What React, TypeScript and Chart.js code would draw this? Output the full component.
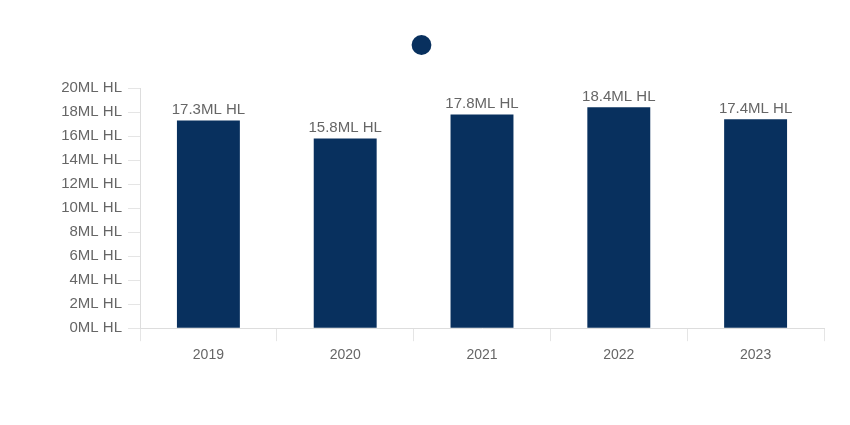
import React, { useEffect, useRef } from "react";
import { Chart, registerables } from "chart.js";

Chart.register(...registerables);

const categories = ["2019", "2020", "2021", "2022", "2023"];
const volumes = [17.3, 15.8, 17.8, 18.4, 17.4];
const unit = "ML HL";
const yMax = 20;
const yStep = 2;
const barColor = "#08305e";
const textColor = "#666666";
const fontFamily = "'Helvetica Neue', Helvetica, Arial, 'Liberation Sans', sans-serif";

const legendSpacing = {
  id: "legendSpacing",
  beforeInit(chart: any) {
    const legend = chart.legend;
    if (!legend) return;
    const fit = legend.fit;
    legend.fit = function () {
      fit.call(legend);
      legend.height += 26;
    };
  },
};

const valueLabels = {
  id: "valueLabels",
  afterDatasetsDraw(chart: any) {
    const ctx = chart.ctx;
    const meta = chart.getDatasetMeta(0);
    const data = chart.data.datasets[0].data as number[];
    ctx.save();
    ctx.font = `15px ${fontFamily}`;
    ctx.fillStyle = textColor;
    ctx.textAlign = "center";
    ctx.textBaseline = "alphabetic";
    meta.data.forEach((bar: any, i: number) => {
      ctx.fillText(`${data[i].toFixed(1)}${unit}`, bar.x, bar.y - 6);
    });
    ctx.restore();
  },
};

export default function App() {
  const canvasRef = useRef<HTMLCanvasElement | null>(null);

  useEffect(() => {
    if (!canvasRef.current) return;
    const chart = new Chart(canvasRef.current, {
      type: "bar",
      data: {
        labels: categories,
        datasets: [
          {
            label: "",
            data: volumes,
            backgroundColor: barColor,
            borderColor: barColor,
            barPercentage: 0.46,
            categoryPercentage: 1,
          },
        ],
      },
      options: {
        animation: false,
        responsive: false,
        maintainAspectRatio: false,
        layout: { padding: { top: 28, left: 26, right: 26, bottom: 55 } },
        font: { family: fontFamily, size: 14 },
        color: textColor,
        plugins: {
          legend: {
            display: true,
            position: "top",
            labels: {
              usePointStyle: true,
              pointStyle: "circle",
              boxHeight: 14,
              boxWidth: 14,
              color: textColor,
              font: { family: fontFamily, size: 14 },
            },
          },
          tooltip: { enabled: false },
        },
        scales: {
          x: {
            grid: {
              drawOnChartArea: false,
              drawTicks: true,
              tickLength: 13,
              offset: true,
            },
            border: { display: true, color: "#dddddd" },
            ticks: {
              color: textColor,
              font: { family: fontFamily, size: 14 },
              padding: 6,
            },
          },
          y: {
            min: 0,
            max: yMax,
            afterFit: (scale: any) => {
              scale.width = 114;
            },
            grid: {
              drawOnChartArea: false,
              drawTicks: true,
              tickLength: 12,
            },
            border: { display: true, color: "#dddddd" },
            ticks: {
              stepSize: yStep,
              color: textColor,
              font: { family: fontFamily, size: 15 },
              padding: 6,
              callback: (v: any) => `${v}${unit}`,
            },
          },
        },
      },
      plugins: [legendSpacing, valueLabels],
    });
    return () => chart.destroy();
  }, []);

  return (
    <div style={{ position: "fixed", left: 0, top: 0, width: 850, height: 425, background: "#fff" }}>
      <canvas ref={canvasRef} width={850} height={425} style={{ display: "block" }} />
    </div>
  );
}
